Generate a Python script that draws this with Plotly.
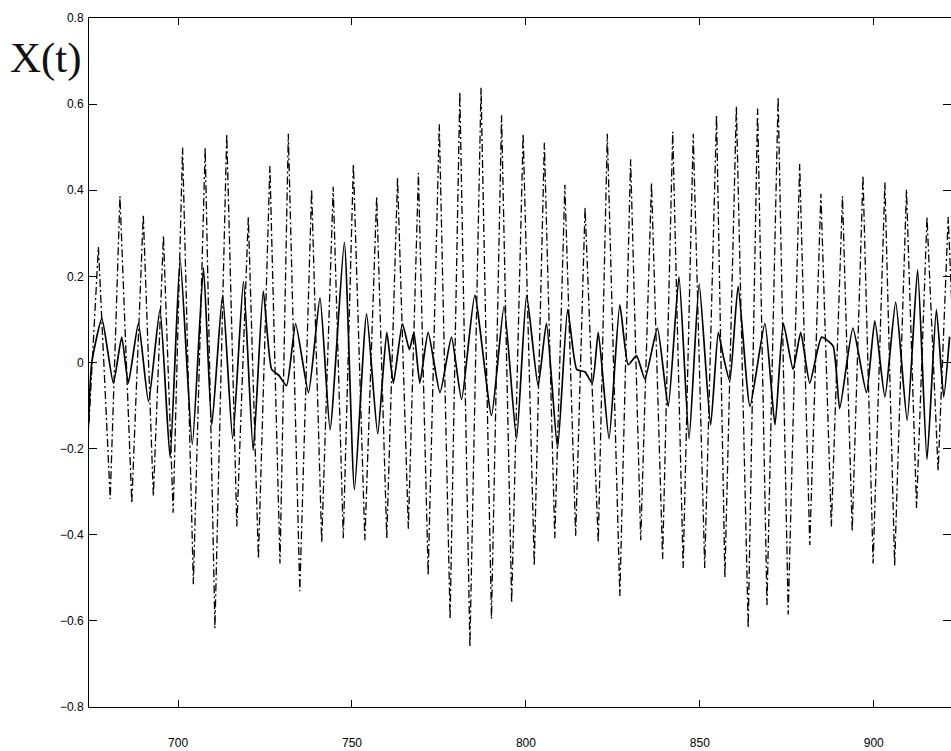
import plotly.graph_objects as go

# Dash-dot series: extrema (time, value)
dd_t = [674.4, 677.1, 680.5, 683.3, 686.7, 690.0, 692.9, 695.8, 698.6, 701.3,
        704.4, 707.8, 710.6, 714.0, 716.9, 720.2, 723.1, 726.4, 729.3, 731.7,
        735.0, 738.4, 741.3, 744.6, 747.5, 750.4, 753.7, 757.1, 760.0, 763.1,
        766.2, 769.1, 771.9, 775.1, 778.2, 781.0, 783.9, 787.1, 790.1, 793.0,
        795.9, 799.2, 802.4, 805.3, 808.3, 811.2, 814.3, 817.0, 820.8, 823.4,
        827.0, 830.1, 833.0, 836.1, 839.3, 842.2, 845.2, 848.1, 851.4, 854.8,
        857.2, 860.5, 863.9, 866.6, 869.3, 872.5, 875.4, 878.7, 881.6, 884.8,
        887.8, 891.0, 893.8, 896.9, 899.8, 903.2, 906.0, 909.4, 912.3, 915.3,
        918.5, 921.4, 922.6]
dd_v = [-0.14, 0.268, -0.317, 0.386, -0.327, 0.343, -0.311, 0.295, -0.349, 0.499,
        -0.515, 0.499, -0.617, 0.531, -0.381, 0.338, -0.456, 0.456, -0.467, 0.531,
        -0.531, 0.402, -0.418, 0.408, -0.408, 0.461, -0.413, 0.386, -0.408, 0.429,
        -0.386, 0.44, -0.494, 0.553, -0.595, 0.628, -0.66, 0.638, -0.595, 0.574,
        -0.558, 0.531, -0.472, 0.51, -0.408, 0.413, -0.402, 0.36, -0.418, 0.531,
        -0.542, 0.472, -0.413, 0.418, -0.456, 0.536, -0.477, 0.531, -0.477, 0.574,
        -0.499, 0.595, -0.617, 0.59, -0.563, 0.617, -0.585, 0.461, -0.424, 0.392,
        -0.381, 0.386, -0.392, 0.435, -0.467, 0.418, -0.472, 0.402, -0.338, 0.338,
        -0.252, 0.338, 0.1]

# Solid series: extrema (time, value)
s_t = [674.2, 675.2, 678.1, 681.4, 683.8, 685.7, 688.6, 691.5, 694.8, 697.7,
       700.6, 704.1, 707.3, 709.7, 712.8, 715.7, 718.8, 721.6, 724.5, 726.9,
       729.0, 731.2, 733.8, 737.5, 740.8, 743.7, 747.8, 750.7, 754.2, 757.4,
       760.0, 761.9, 764.5, 766.5, 767.8, 769.5, 771.9, 775.3, 778.6, 781.5,
       785.3, 790.1, 793.7, 797.3, 800.2, 803.5, 805.9, 809.1, 812.0, 814.6,
       817.0, 819.1, 820.8, 823.9, 827.0, 829.4, 831.8, 834.2, 837.8, 840.9,
       844.0, 846.9, 849.8, 853.1, 855.3, 856.7, 858.6, 861.0, 864.4, 868.7,
       871.6, 874.0, 876.8, 879.0, 881.6, 885.0, 888.3, 890.2, 894.0, 897.9,
       900.3, 903.2, 906.3, 909.6, 912.6, 915.3, 918.0, 920.1, 921.8]
s_v = [-0.155, 0.0, 0.102, -0.048, 0.059, -0.048, 0.091, -0.091, 0.123, -0.22,
       0.24, -0.19, 0.22, -0.145, 0.156, -0.177, 0.188, -0.204, 0.166, -0.016,
       -0.03, -0.054, 0.09, -0.07, 0.15, -0.156, 0.279, -0.295, 0.113, -0.166,
       0.07, -0.048, 0.09, 0.03, 0.07, -0.048, 0.07, -0.07, 0.059, -0.086,
       0.156, -0.123, 0.13, -0.177, 0.156, -0.054, 0.091, -0.199, 0.123, -0.016,
       -0.022, -0.048, 0.07, -0.177, 0.134, -0.005, 0.016, -0.038, 0.08, -0.102,
       0.199, -0.177, 0.182, -0.145, 0.07, 0.016, -0.043, 0.177, -0.102, 0.091,
       -0.145, 0.091, -0.016, 0.07, -0.048, 0.059, 0.038, -0.107, 0.08, -0.07,
       0.097, -0.08, 0.14, -0.134, 0.215, -0.225, 0.123, -0.08, 0.06]

x_ticks = [700, 750, 800, 850, 900]
y_ticks = [-0.8, -0.6, -0.4, -0.2, 0, 0.2, 0.4, 0.6, 0.8]
y_labels = ["\u22120.8", "\u22120.6", "\u22120.4", "\u22120.2", "0", "0.2", "0.4", "0.6", "0.8"]

fig = go.Figure()
fig.add_trace(go.Scatter(x=dd_t, y=dd_v, mode="lines",
                         line=dict(color="#000000", width=1.3, dash="8px,3px,2px,3px"),
                         showlegend=False, hoverinfo="skip"))
fig.add_trace(go.Scatter(x=s_t, y=s_v, mode="lines",
                         line=dict(color="#000000", width=1.7, shape="spline", smoothing=0.5),
                         showlegend=False, hoverinfo="skip"))

axis_font = dict(family="Liberation Sans, Arial, sans-serif", size=12, color="#000000")
fig.update_layout(
    width=951, height=751,
    margin=dict(l=89, r=0, t=18, b=44),
    paper_bgcolor="white", plot_bgcolor="white",
    xaxis=dict(range=[674.4, 922.2], tickvals=x_ticks, ticks="inside", ticklen=7,
               tickcolor="#000", showline=True, linecolor="#000", linewidth=1,
               mirror="ticks", showgrid=False, zeroline=False, tickfont=axis_font,
               ticklabelstandoff=25),
    yaxis=dict(range=[-0.8, 0.8], tickvals=y_ticks, ticktext=y_labels,
               ticks="inside", ticklen=8, tickcolor="#000", showline=True,
               linecolor="#000", linewidth=1, mirror="ticks", showgrid=False,
               zeroline=False, tickfont=axis_font, ticklabelstandoff=2),
    annotations=[dict(text="X(t)", xref="paper", yref="paper",
                      x=(8 - 89) / 862, y=1 - (58 - 18) / 689,
                      xanchor="left", yanchor="middle", showarrow=False,
                      font=dict(family="Liberation Serif, Times New Roman, serif",
                                size=43, color="#111111"))],
)

fig.write_html("out.html")
